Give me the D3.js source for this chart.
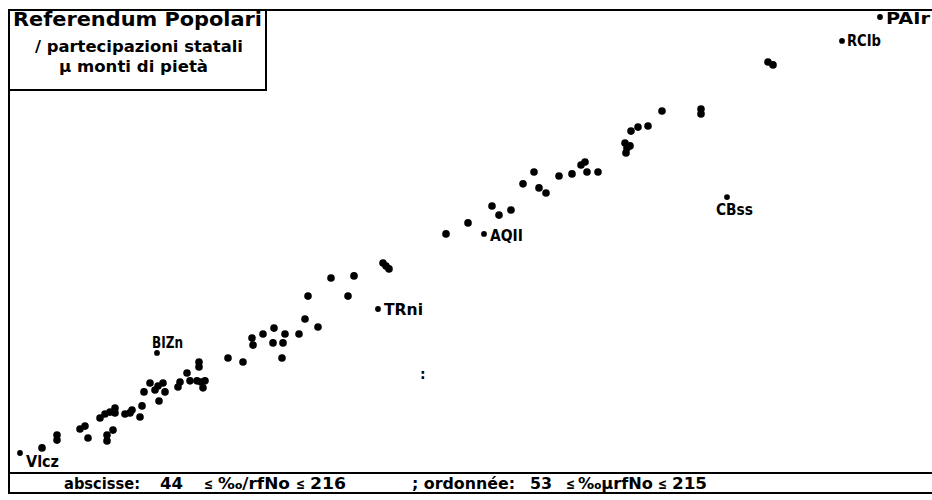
<!DOCTYPE html>
<html>
<head>
<meta charset="utf-8">
<script src="https://cdn.jsdelivr.net/npm/d3@7/dist/d3.min.js"></script>
<style>
  html, body { margin: 0; padding: 0; background: #fff; }
  svg { display: block; }
  text { font-family: "DejaVu Sans", "Liberation Sans", sans-serif; fill: #000; }
</style>
</head>
<body>
<svg id="chart" width="932" height="500"></svg>
<script>
// ---- data ----
const xDomain = [44, 216];   // abscisse: 44 ≤ ‰/rfNo ≤ 216
const yDomain = [53, 215];   // ordonnée: 53 ≤ ‰µrfNo ≤ 215

const xValues = [
  48.4, 51.4, 51.4, 56.0, 57.0, 57.6, 60.0, 61.0, 62.0, 61.4, 61.4, 62.6, 63.0, 63.0, 65.0, 66.0, 66.4,
  68.0, 68.4, 68.8, 70.0, 71.0, 71.6, 72.6, 73.0, 71.8, 75.6, 76.0, 77.4, 78.0, 79.4, 80.2, 81.0, 80.6,
  79.8, 79.8, 85.6, 88.6, 90.4, 90.6, 92.6, 94.6, 94.8, 96.4, 96.6, 97.0, 99.8, 101.0, 103.6, 101.6,
  106.2, 109.6, 110.8, 116.6, 117.2, 117.8, 129.2, 133.6, 138.4, 139.8, 142.2, 144.6, 146.8, 147.8,
  149.2, 151.8, 154.4, 156.2, 157.0, 157.4, 159.6, 165.0, 165.4, 166.0, 165.2, 166.2, 167.6, 169.6,
  172.4, 180.2, 180.2, 193.6, 194.6
];
const yValues = [
  54.9, 59.7, 57.8, 61.9, 63.0, 58.6, 66.0, 67.5, 68.2, 59.7, 57.5, 61.5, 69.7, 67.9, 67.5, 67.9, 69.0,
  66.4, 70.5, 75.7, 79.0, 76.4, 77.9, 79.0, 75.7, 72.3, 77.5, 79.4, 82.7, 79.8, 79.8, 79.4, 79.8, 77.2,
  86.8, 85.0, 88.3, 86.8, 95.7, 93.1, 97.2, 93.9, 99.4, 88.3, 93.9, 97.2, 97.2, 102.8, 99.8, 111.3,
  118.0, 111.3, 118.8, 123.6, 122.5, 121.4, 134.4, 138.5, 144.8, 141.4, 143.3, 153.0, 157.4, 151.5,
  149.6, 155.9, 156.7, 160.0, 161.1, 157.4, 157.4, 168.2, 166.3, 167.1, 164.5, 172.6, 174.1, 174.5,
  180.1, 180.8, 179.0, 198.3, 197.2
];

const labelNames = ["PAIr", "RCIb", "CBss", "AQII", "TRni", "BIZn", "Vlcz"];
const labelX     = [216.0, 208.4, 185.4, 136.8, 115.6, 71.4, 44.0];
const labelY     = [215.0, 206.1, 148.1, 134.4, 106.5, 90.2, 53.0];

const titleLines = ["Referendum Popolari", "/ partecipazioni statali", "µ monti di pietà"];
const footerParts = ["abscisse:", "44", "≤", "‰/rfNo", "≤", "216", "; ordonnée:", "53", "≤", "‰µrfNo", "≤", "215"];

// ---- layout / style (not data) ----
const labelPlacement = {
  PAIr: { dx: 6, dy: 7, w: 44 },
  RCIb: { dx: 5, dy: 5, w: 34 },
  CBss: { dx: -11, dy: 18, w: 37 },
  AQII: { dx: 6, dy: 7, w: 33 },
  TRni: { dx: 6, dy: 6, w: 39 },
  BIZn: { dx: -5, dy: -5, w: 31 },
  Vlcz: { dx: 6, dy: 14, w: 33 }
};
const footerX = [64, 160, 204, 218, 296, 310, 412, 530, 566, 578, 658, 672];
const footerW = [76, 23, 9, 72, 9, 36, 103, 22, 9, 75, 9, 35];

const svg = d3.select("#chart");
const x = d3.scaleLinear().domain(xDomain).range([20, 880]);
const y = d3.scaleLinear().domain(yDomain).range([453, 17]);

// frame
const frame = svg.append("g").attr("stroke", "#000").attr("stroke-width", 2).attr("fill", "none");
frame.append("line").attr("x1", 8).attr("x2", 932).attr("y1", 10).attr("y2", 10);
frame.append("line").attr("x1", 9).attr("x2", 9).attr("y1", 9).attr("y2", 493);
frame.append("line").attr("x1", 8).attr("x2", 932).attr("y1", 473).attr("y2", 473);
frame.append("line").attr("x1", 8).attr("x2", 932).attr("y1", 493).attr("y2", 493);
frame.append("line").attr("x1", 266).attr("x2", 266).attr("y1", 10).attr("y2", 91);
frame.append("line").attr("x1", 9).attr("x2", 266).attr("y1", 90).attr("y2", 90);

// title
const tl = [
  { x: 13, y: 26, w: 249, size: 20 },
  { x: 35, y: 52, w: 208, size: 15 },
  { x: 59, y: 72, w: 149, size: 15 }
];
svg.selectAll("text.title").data(titleLines).join("text")
  .attr("class", "title")
  .attr("x", (d, i) => tl[i].x)
  .attr("y", (d, i) => tl[i].y)
  .attr("font-size", (d, i) => tl[i].size)
  .attr("font-weight", "bold")
  .attr("textLength", (d, i) => tl[i].w)
  .attr("lengthAdjust", "spacingAndGlyphs")
  .text(d => d);

// points
const pts = xValues.map((v, i) => ({ x: v, y: yValues[i] }));
svg.append("g").selectAll("circle").data(pts).join("circle")
  .attr("cx", d => x(d.x))
  .attr("cy", d => y(d.y))
  .attr("r", 3.8)
  .attr("fill", "#000");

// labelled points
const lab = labelNames.map((n, i) => ({ name: n, x: labelX[i], y: labelY[i] }));
const lg = svg.append("g");
lg.selectAll("circle").data(lab).join("circle")
  .attr("cx", d => x(d.x))
  .attr("cy", d => y(d.y))
  .attr("r", 2.9)
  .attr("fill", "#000");
lg.selectAll("text").data(lab).join("text")
  .attr("x", d => x(d.x) + labelPlacement[d.name].dx)
  .attr("y", d => y(d.y) + labelPlacement[d.name].dy)
  .attr("font-size", 15.5)
  .attr("font-weight", "bold")
  .attr("textLength", d => labelPlacement[d.name].w)
  .attr("lengthAdjust", "spacingAndGlyphs")
  .text(d => d.name);

// stray colon mark
svg.append("text").attr("x", 420).attr("y", 379).attr("font-size", 14).attr("font-weight", "bold").text(":");

// footer
svg.append("g").selectAll("text").data(footerParts).join("text")
  .attr("x", (d, i) => footerX[i])
  .attr("y", 489)
  .attr("font-size", 15)
  .attr("font-weight", "bold")
  .attr("textLength", (d, i) => footerW[i])
  .attr("lengthAdjust", "spacingAndGlyphs")
  .text(d => d);
</script>
</body>
</html>
